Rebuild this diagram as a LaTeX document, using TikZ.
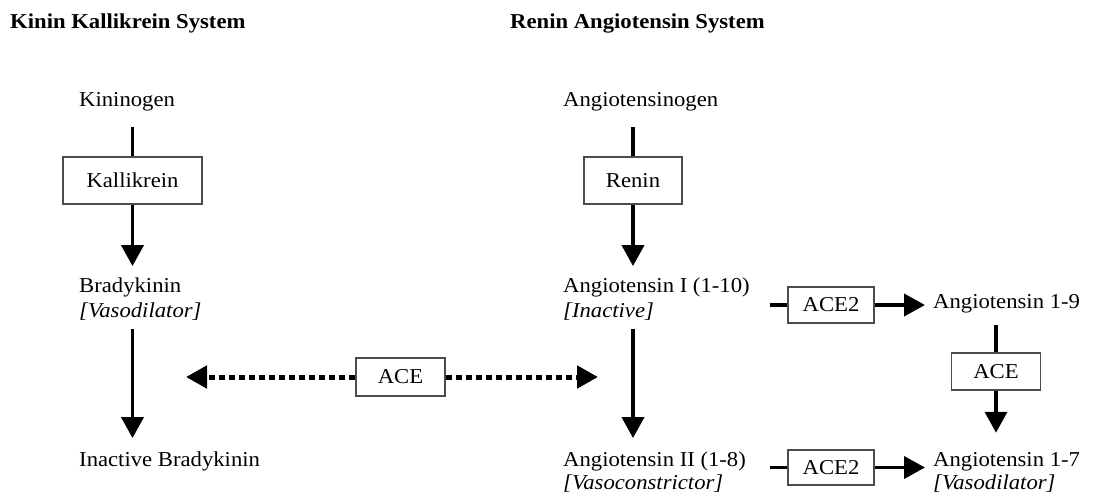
\documentclass[tikz,border=0pt]{standalone}
\usepackage{fontspec}
\setmainfont{Liberation Serif}[FakeStretch=1.07]
\usetikzlibrary{arrows.meta}
\begin{document}
\begin{tikzpicture}[x=1pt,y=-1pt,
  txt/.style={anchor=base west, inner sep=0pt, font=\fontsize{21.2}{25}\selectfont},
  title/.style={txt, font=\fontsize{21.2}{25}\selectfont\bfseries},
  enzyme/.style={draw=black!70, line width=1.2pt, inner sep=0pt, fill=white,
                 font=\fontsize{21.2}{25}\selectfont},
  shaft/.style={line width=3.8pt},
  arr/.style={shaft, -{Triangle[length=21pt,width=22pt]}},
  dotarr/.style={line width=5pt, dash pattern=on 6pt off 4pt,
                 -{Triangle[length=21pt,width=22pt]}},
]
\useasboundingbox (0,0) rectangle (1094,494);

% headings
\node[title] (t1) at (10,29)  {Kinin Kallikrein System};
\node[title] (t2) at (510,29) {Renin Angiotensin System};

% substrates and products
\node[txt] (kin)    at (79,107)  {Kininogen};
\node[txt] (ang)    at (563,107) {Angiotensinogen};
\node[txt] (brady)  at (79,292)  {Bradykinin};
\node[txt] (bradyv) at (79,317)  {\textit{[Vasodilator]}};
\node[txt] (a1)     at (563,292) {Angiotensin I (1-10)};
\node[txt] (a1v)    at (563,317) {\textit{[Inactive]}};
\node[txt] (ib)     at (79,466)  {Inactive Bradykinin};
\node[txt] (a2)     at (563,466) {Angiotensin II (1-8)};
\node[txt] (a2v)    at (563,489) {\textit{[Vasoconstrictor]}};
\node[txt] (a19)    at (933,308) {Angiotensin 1-9};
\node[txt] (a17)    at (933,466) {Angiotensin 1-7};
\node[txt] (a17v)   at (933,489) {\textit{[Vasodilator]}};

% enzymes
\node[enzyme, minimum width=139pt, minimum height=47pt] (kal)   at (132.5,180.5) {Kallikrein};
\node[enzyme, minimum width=98pt,  minimum height=47pt] (ren)   at (633,180.5)   {Renin};
\node[enzyme, minimum width=89pt,  minimum height=38pt] (ace)   at (400.5,377)   {ACE};
\node[enzyme, minimum width=86pt,  minimum height=36pt] (ace2a) at (831,305)     {ACE2};
\node[enzyme, minimum width=86pt,  minimum height=35pt] (ace2b) at (831,467.5)   {ACE2};
\node[enzyme, minimum width=89pt,  minimum height=37pt] (aceb)  at (996,371.5)   {ACE};

% free ends
\coordinate (aceL) at (186,377);
\coordinate (aceR) at (598,377);
\coordinate (s1)   at (770,305);
\coordinate (s2)   at (770,467.5);

% kinin pathway
\draw[shaft, shorten <=15pt] (kin.south -| kal.north) -- (kal.north);
\draw[arr, shorten >=11pt] (kal.south) -- (kal.south |- brady.north);
\draw[arr, shorten <=9pt, shorten >=13pt] (bradyv.south -| kal.south) -- (kal.south |- ib.north);

% renin pathway
\draw[shaft, shorten <=15pt] (ang.south -| ren.north) -- (ren.north);
\draw[arr, shorten >=11pt] (ren.south) -- (ren.south |- a1.north);
\draw[arr, shorten <=9pt, shorten >=13pt] (a1v.south -| ren.south) -- (ren.south |- a2.north);

% ACE acting on both systems
\draw[dotarr] (ace.west) -- (aceL);
\draw[dotarr] (ace.east) -- (aceR);

% ACE2 branches
\draw[shaft] (s1) -- (ace2a.west);
\draw[arr, shorten >=8pt] (ace2a.east) -- (ace2a.east -| a19.west);
\draw[shaft] (s2) -- (ace2b.west);
\draw[arr, shorten >=8pt] (ace2b.east) -- (ace2b.east -| a17.west);

% Angiotensin 1-9 to 1-7
\draw[shaft, shorten <=12pt] (a19.south -| aceb.north) -- (aceb.north);
\draw[arr, shorten >=19pt] (aceb.south) -- (aceb.south |- a17.north);
\end{tikzpicture}
\end{document}
